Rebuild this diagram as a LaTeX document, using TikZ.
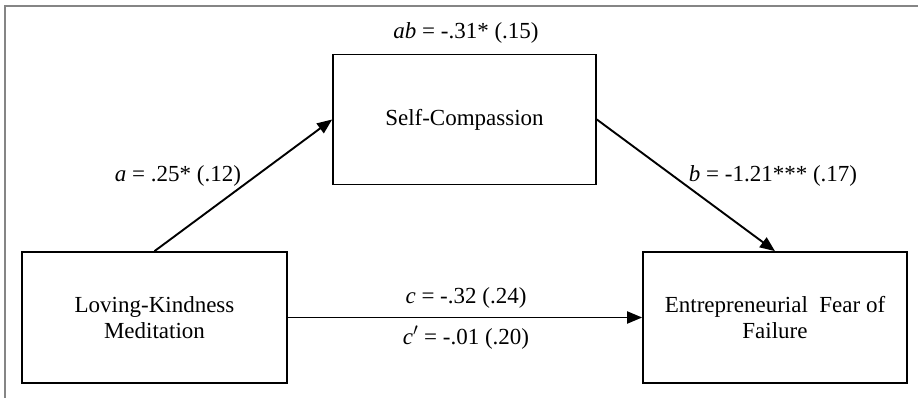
\documentclass[tikz,border=0pt]{standalone}
\usepackage{fontspec}
\setmainfont{Liberation Serif}
\usetikzlibrary{arrows.meta}
\definecolor{framegrey}{HTML}{858585}
\tikzset{
  box/.style={draw=black, line width=1.7pt, rectangle, align=center, inner sep=0pt,
    font=\fontsize{23}{26}\selectfont},
  lbl/.style={inner sep=0pt, font=\fontsize{23}{26}\selectfont},
  arr/.style={draw=black, line width=1.9pt, -{Triangle[length=15pt,width=12pt]}},
}
\begin{document}
\begin{tikzpicture}[x=1pt,y=-1pt]
\useasboundingbox (0,0) rectangle (918,398);
\draw[framegrey, line width=2pt] (4.5,398) -- (4.5,6.5) -- (918,6.5);
\node[box, minimum width=265pt, minimum height=131pt] (lkm) at (154.5,317.5) {Loving-Kindness\\Meditation};
\node[box, minimum width=264pt, minimum height=131pt] (eff) at (775,317.5) {Entrepreneurial\ \ Fear of\\Failure};
\node[box, minimum width=263pt, minimum height=130pt] (sc) at (464.5,119.5) {Self-Compassion};
\draw[arr] (lkm.north) -- (sc.west);
\draw[arr] (sc.east) -- (eff.north);
\draw[arr] (lkm.east) -- (eff.west);
\node[lbl] (lab) at (466,33) {\textit{ab} = -.31* (.15)};
\node[lbl] (la) at (178,176) {\textit{a} = .25* (.12)};
\node[lbl] (lb) at (773,176) {\textit{b} = -1.21*** (.17)};
\node[lbl] (lc) at (466,298) {\textit{c} = -.32 (.24)};
\node[lbl] (lcp) at (466,338) {\textit{c}$'$ = -.01 (.20)};
\end{tikzpicture}
\end{document}
